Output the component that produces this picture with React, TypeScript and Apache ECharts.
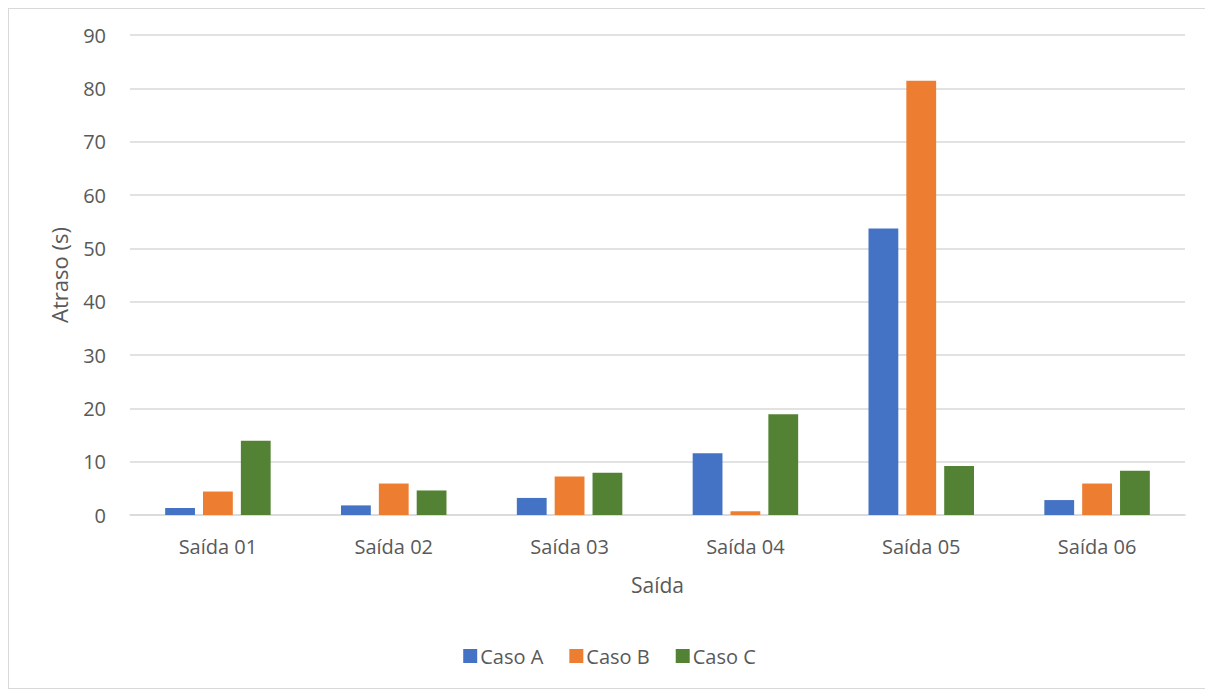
import React, { useEffect, useRef } from "react";
import * as echarts from "echarts";

const categories = ["Saída 01", "Saída 02", "Saída 03", "Saída 04", "Saída 05", "Saída 06"];
const casoA = [1.3, 1.8, 3.2, 11.6, 53.7, 2.8];
const casoB = [4.4, 5.9, 7.2, 0.7, 81.4, 5.9];
const casoC = [13.9, 4.6, 7.9, 18.9, 9.2, 8.3];
const seriesNames = ["Caso A", "Caso B", "Caso C"];
const colors = ["#4472C4", "#ED7D31", "#548235"];

const FONT = "'Open Sans', 'Noto Sans', sans-serif";
const TEXT = "#595959";

export default function App() {
  const ref = useRef<HTMLDivElement>(null);

  useEffect(() => {
    if (!ref.current) return;
    const chart = echarts.init(ref.current, undefined, { renderer: "svg" });
    const values = [casoA, casoB, casoC];
    chart.setOption({
      animation: false,
      textStyle: { fontFamily: FONT },
      color: colors,
      grid: { left: 121, right: 25, top: 26, bottom: 173 },
      legend: {
        data: seriesNames,
        bottom: 17,
        left: "center",
        icon: "rect",
        itemWidth: 14,
        itemHeight: 14,
        itemGap: 26,
        textStyle: { fontFamily: FONT, fontSize: 20, color: TEXT, padding: [0, 0, 0, -2] },
      },
      xAxis: {
        type: "category",
        data: categories,
        name: "Saída",
        nameLocation: "middle",
        nameGap: 59,
        nameTextStyle: { fontFamily: FONT, fontSize: 21, color: TEXT },
        axisLine: { lineStyle: { color: "#d9d9d9", width: 1.5 } },
        axisTick: { show: false },
        axisLabel: { fontFamily: FONT, fontSize: 20, color: TEXT, margin: 21 },
      },
      yAxis: {
        type: "value",
        min: 0,
        max: 90,
        interval: 10,
        name: "Atraso (s)",
        nameLocation: "middle",
        nameGap: 60,
        nameTextStyle: { fontFamily: FONT, fontSize: 22, color: TEXT },
        axisLine: { show: false },
        axisTick: { show: false },
        axisLabel: { fontFamily: FONT, fontSize: 20, color: TEXT, margin: 24 },
        splitLine: { lineStyle: { color: "#d9d9d9", width: 1.5 } },
      },
      series: seriesNames.map((name, i) => ({
        name,
        type: "bar",
        data: values[i],
        barGap: "27%",
        barCategoryGap: "40%",
        itemStyle: { color: colors[i] },
      })),
    });
    return () => chart.dispose();
  }, []);

  return (
    <div
      style={{
        width: 1203,
        height: 681,
        border: "1px solid #d9d9d9",
        boxSizing: "border-box",
        background: "#fff",
      }}
    >
      <div ref={ref} style={{ width: 1201, height: 679 }} />
    </div>
  );
}
